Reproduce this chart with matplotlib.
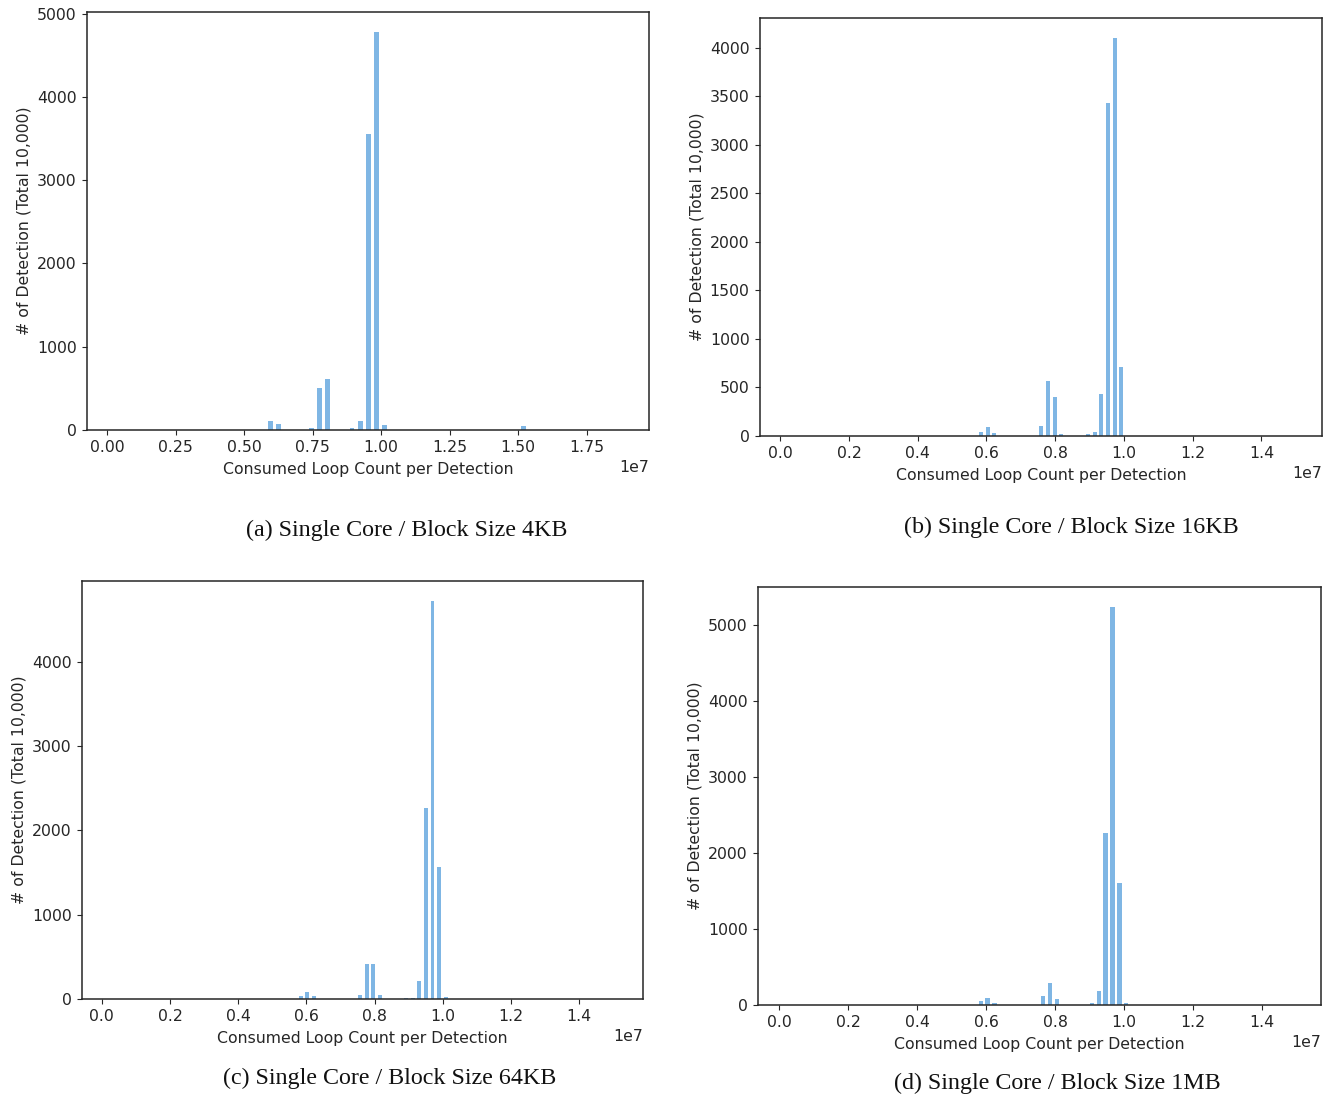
import matplotlib
matplotlib.use("Agg")
import matplotlib.pyplot as plt

plt.rcParams['font.family'] = ['DejaVu Sans']
TXT = '#262626'
plt.rcParams.update({
    'text.color': TXT, 'axes.labelcolor': TXT, 'xtick.color': TXT, 'ytick.color': TXT,
    'axes.edgecolor': TXT, 'font.size': 11.3,
})

BAR_COLOR = '#7FB6E4'

# ---- data: bin centres (loop count) and detection counts ----
a_centers = [5.967e6, 6.264e6, 7.455e6, 7.752e6, 8.050e6, 8.942e6, 9.240e6, 9.537e6,
             9.835e6, 10.132e6, 13.404e6, 14.892e6, 15.189e6]
a_counts = [105, 68, 20, 501, 609, 20, 104, 3554, 4780, 56, 5, 5, 44]
a_binw = 0.2975e6

b_centers = [5.652e6, 5.846e6, 6.040e6, 6.234e6, 6.429e6, 7.206e6, 7.400e6, 7.594e6,
             7.788e6, 7.982e6, 8.176e6, 8.371e6, 8.565e6, 8.759e6, 8.953e6, 9.147e6,
             9.342e6, 9.536e6, 9.730e6, 9.924e6, 10.313e6, 10.701e6, 14.973e6]
b_counts = [3, 38, 89, 27, 4, 3, 4, 99, 562, 398, 17, 4, 4, 4, 17, 38, 428, 3431, 4100,
            706, 3, 3, 3]
b_binw = 0.1942e6

c_centers = [5.831e6, 6.024e6, 6.218e6, 7.571e6, 7.764e6, 7.957e6, 8.151e6, 8.924e6,
             9.117e6, 9.310e6, 9.504e6, 9.697e6, 9.890e6, 10.084e6]
c_counts = [36, 83, 36, 47, 415, 415, 47, 12, 12, 214, 2267, 4724, 1567, 24]
c_binw = 0.1933e6

d_centers = [5.641e6, 5.842e6, 6.043e6, 6.244e6, 7.250e6, 7.451e6, 7.652e6, 7.853e6,
             8.054e6, 8.255e6, 8.456e6, 8.657e6, 8.858e6, 9.060e6, 9.261e6, 9.462e6,
             9.663e6, 9.864e6, 10.065e6, 10.266e6, 10.870e6, 15.093e6]
d_counts = [3, 52, 92, 26, 3, 3, 118, 289, 79, 3, 3, 3, 3, 26, 184, 2257, 5236, 1601,
            26, 3, 3, 3]
d_binw = 0.2011e6

captions = ['(a) Single Core / Block Size 4KB', '(b) Single Core / Block Size 16KB',
            '(c) Single Core / Block Size 64KB', '(d) Single Core / Block Size 1MB']
xlabel = 'Consumed Loop Count per Detection'
ylabel = '# of Detection (Total 10,000)'

W, H = 1332, 1095
fig = plt.figure(figsize=(W / 100, H / 100), dpi=100)

def rect(l, t, r, b):
    return [l / W, 1 - b / H, (r - l) / W, (b - t) / H]

panels = [
    (rect(87, 12, 649, 430), a_centers, a_counts, a_binw, (-0.073e7, 1.978e7), (407, 530)),
    (rect(760, 18, 1322, 436), b_centers, b_counts, b_binw, (-0.0588e7, 1.5765e7), (1071, 527)),
    (rect(82, 581, 643, 999), c_centers, c_counts, c_binw, (-0.0578e7, 1.5868e7), (390, 1078)),
    (rect(758, 587, 1321, 1005), d_centers, d_counts, d_binw, (-0.0607e7, 1.5704e7), (1057, 1083)),
]

for (r, cen, cnt, bw, xl, cap_pos), cap in zip(panels, captions):
    ax = fig.add_axes(r)
    ax.bar(cen, cnt, width=bw * 0.6, color=BAR_COLOR, linewidth=0)
    ax.set_xlim(*xl)
    ax.set_xlabel(xlabel, labelpad=4.5)
    ax.set_ylabel(ylabel)
    ax.tick_params(pad=4)
    for s in ax.spines.values():
        s.set_linewidth(1.1)
    fig.text(cap_pos[0] / W, 1 - cap_pos[1] / H, cap, ha='center', va='center',
             family=['Liberation Serif'], fontsize=17.3, color='#111111')

fig.savefig('out.png', dpi=100)
